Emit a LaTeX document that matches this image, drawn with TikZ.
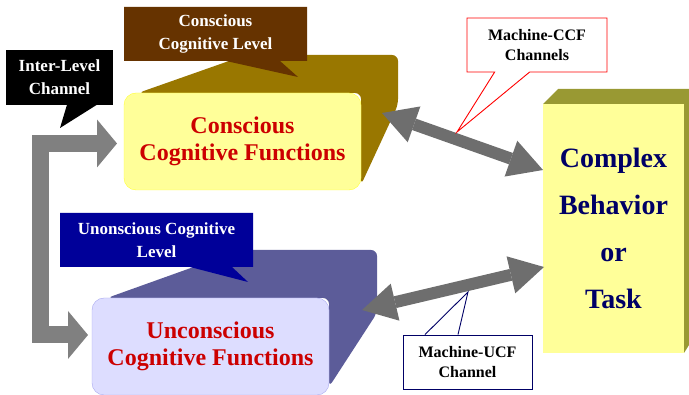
\documentclass[tikz,border=0pt]{standalone}
\usepackage{fontspec}
\setmainfont{Liberation Serif}
\usetikzlibrary{arrows.meta, shapes.callouts}
\definecolor{ccfyellow}{HTML}{FFFF99}
\definecolor{ccfedge}{HTML}{FFFF33}
\definecolor{ccfdepth}{HTML}{997700}
\definecolor{ucflilac}{HTML}{DDDDFF}
\definecolor{ucfedge}{HTML}{A8A8F0}
\definecolor{ucfdepth}{HTML}{5C5C99}
\definecolor{taskdepth}{HTML}{999933}
\definecolor{lvlbrown}{HTML}{663300}
\definecolor{lvlblue}{HTML}{000099}
\definecolor{fnred}{HTML}{CC0000}
\definecolor{tasknavy}{HTML}{000066}
\definecolor{chgray}{HTML}{808080}
\definecolor{mcgray}{HTML}{6E6E6E}

\begin{document}
\begin{tikzpicture}[x=1pt, y=-1pt,
  fnbox/.style={rounded corners=12pt, align=center, text=fnred, font=\fontsize{24}{27}\selectfont\bfseries},
  lvlnote/.style={rectangle callout, inner sep=0pt, align=center, text=white, font=\fontsize{17}{23}\selectfont\bfseries},
  chnote/.style={inner sep=0pt, fill=white, line width=0.9pt, align=center, font=\fontsize{16}{20}\selectfont\bfseries},
  chbar/.style={chgray, line width=17pt, line join=miter, {Triangle[length=20pt,width=48pt,line width=0pt]}-{Triangle[length=20pt,width=48pt,line width=0pt]}},
  mcarrow/.style={mcgray, line width=12pt, {Triangle[length=34pt,width=38pt,line width=0pt]}-{Triangle[length=34pt,width=38pt,line width=0pt]}}]
  \useasboundingbox (0,0) rectangle (689,395);
  \fill[ccfdepth, rounded corners=6pt] (138,93) -- (246,55) -- (398,55) -- (398,105) -- (361,185) -- (361,93) -- cycle;
  \fill[ucfdepth, rounded corners=6pt] (107,298) -- (241,250) -- (377,250) -- (377,313) -- (329,387) -- (329,298) -- cycle;
  \fill[taskdepth] (543,104) -- (558,89) -- (689,89) -- (689,345) -- (684,353) -- (684,104) -- cycle;
  \node[fnbox, fill=ccfyellow, draw=ccfedge, minimum width=237pt, minimum height=97pt] (ccf) at (242.5,141.5) {Conscious\\Cognitive Functions};
  \node[fnbox, fill=ucflilac, draw=ucfedge, minimum width=237pt, minimum height=97pt] (ucf) at (210.5,346.5) {Unconscious\\Cognitive Functions};
  \node[fill=ccfyellow, minimum width=141pt, minimum height=249pt, align=center, text=tasknavy, font=\fontsize{28}{47}\selectfont\bfseries] (task) at (613.5,228.5) {Complex\\Behavior\\or\\Task};
  \coordinate (ccfin) at (117,143.5);
  \coordinate (ucfin) at (88,335);
  \draw[chbar] (ccfin) -- (40.5,143.5) |- (ucfin);
  \coordinate (ccfport) at (382,113);
  \coordinate (taskccf) at (543,170);
  \coordinate (ucfport) at (362,310);
  \coordinate (taskucf) at (544,267);
  \draw[mcarrow] (ccfport) -- (taskccf);
  \draw[mcarrow] (ucfport) -- (taskucf);
  \node[lvlnote, fill=lvlbrown, minimum width=183pt, minimum height=54pt, callout absolute pointer={(298,77)}, callout pointer width=54pt] (ccl) at (215.5,34) {Conscious\\Cognitive Level};
  \node[lvlnote, rectangle, fill=black, minimum width=107pt, minimum height=55pt] (ilc) at (59.5,77.5) {Inter-Level\\Channel};
  \fill[black] ([xshift=7.5pt,yshift=0.5pt]ilc.south) -- (60,128) -- ([xshift=37.5pt,yshift=0.5pt]ilc.south) -- cycle;
  \node[lvlnote, fill=lvlblue, minimum width=193pt, minimum height=54pt, callout absolute pointer={(248,282)}, callout pointer width=42pt] (ucl) at (156.5,240) {Unonscious Cognitive\\Level};
  \node[chnote, rectangle callout, draw=red, minimum width=140pt, minimum height=54pt, callout absolute pointer={(457,132)}, callout pointer width=35pt] (mccf) at (537,45) {Machine-CCF\\Channels};
  \node[chnote, draw=tasknavy, minimum width=129pt, minimum height=54pt] (mucf) at (467.5,362) {Machine-UCF\\Channel};
  \fill[white] ([xshift=-42.5pt,yshift=-0.2pt]mucf.north) -- (468,292) -- ([xshift=-9.5pt,yshift=-0.2pt]mucf.north) -- cycle;
  \draw[tasknavy, line width=0.9pt] ([xshift=-42.5pt]mucf.north) -- (468,292) -- ([xshift=-9.5pt]mucf.north);
\end{tikzpicture}
\end{document}
